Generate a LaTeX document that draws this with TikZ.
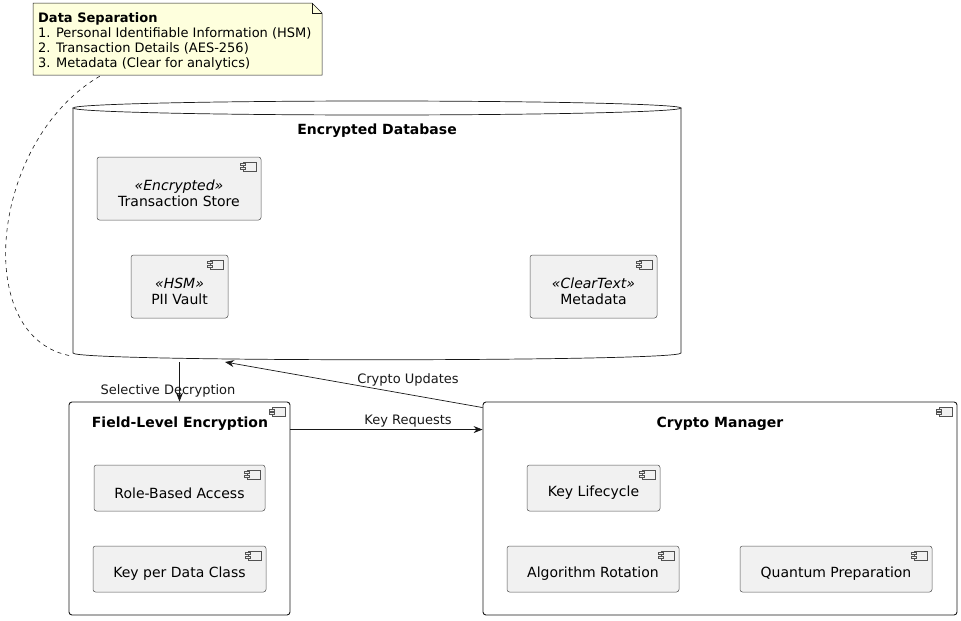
\documentclass[tikz,border=0pt]{standalone}
\usepackage{fontspec}
\setmainfont{DejaVu Sans}
\usetikzlibrary{arrows.meta,calc}
\definecolor{compfill}{HTML}{F1F1F1}
\definecolor{notefill}{HTML}{FEFFDD}
\definecolor{lineclr}{HTML}{181818}
\tikzset{
  comp/.style={draw=lineclr!75, line width=0.5pt, fill=compfill, rounded corners=2.5pt, inner sep=0pt},
  ctext/.style={align=center, font=\fontsize{14}{16.5}\selectfont, inner sep=0pt, yshift=-5pt},
  container/.style={draw=lineclr, line width=0.9pt, rounded corners=3pt, inner sep=0pt},
  ttl/.style={font=\fontsize{14}{16}\selectfont\bfseries, inner sep=0pt},
  elabel/.style={font=\fontsize{13}{15}\selectfont, inner sep=0pt, text=lineclr},
  conn/.style={draw=lineclr, line width=0.7pt, -{Stealth[length=9pt,width=7pt,inset=3pt]}},
  cicon/.pic={
    \draw[lineclr!75, line width=0.5pt, fill=compfill] (2,0) rectangle (15,9);
    \draw[lineclr!75, line width=0.5pt, fill=compfill] (-1,1.5) rectangle (4,3.5);
    \draw[lineclr!75, line width=0.5pt, fill=compfill] (-1,5) rectangle (4,7);
  }
}
\begin{document}
\begin{tikzpicture}[x=1pt,y=-1pt]
\useasboundingbox (0,0) rectangle (961,621);

% note
\node[inner sep=0pt, minimum width=289pt, minimum height=72pt] (note) at (177.5,39) {};
\fill[notefill] (33,3) -- (312,3) -- (322,13) -- (322,75) -- (33,75) -- cycle;
\draw[lineclr, line width=0.5pt] (33,3) -- (312,3) -- (322,13) -- (322,75) -- (33,75) -- cycle;
\draw[lineclr, line width=0.5pt] (312,3) -- (312,13) -- (322,13);
\node[anchor=north west, align=left, inner sep=0pt, font=\fontsize{13}{15}\selectfont] (notetext) at (38,12)
  {\textbf{Data Separation}\\1. Personal Identifiable Information (HSM)\\2. Transaction Details (AES-256)\\3. Metadata (Clear for analytics)};

% database
\node[inner sep=0pt, minimum width=608pt, minimum height=262pt] (db) at (377,231) {};
\fill[white] (73,108) -- (73,353) .. controls (73,362) and (681,362) .. (681,353) -- (681,108) -- cycle;
\draw[lineclr, line width=0.7pt] (73,108) -- (73,353) .. controls (73,362) and (681,362) .. (681,353) -- (681,108);
\draw[lineclr, line width=0.7pt, fill=white] (377,108) ellipse [x radius=304, y radius=7];
\node[ttl] (dbtitle) at (377,131) {Encrypted Database};

\node[comp, minimum width=164pt, minimum height=63pt, label={[ctext]center:{\textit{«Encrypted»}\\Transaction Store}}] (ts) at (179,188.5) {};
\pic at ($(ts.north east)+(-20,5)$) {cicon};
\node[comp, minimum width=97pt, minimum height=63pt, label={[ctext]center:{\textit{«HSM»}\\PII Vault}}] (pii) at (179.5,286.5) {};
\pic at ($(pii.north east)+(-20,5)$) {cicon};
\node[comp, minimum width=127pt, minimum height=63pt, label={[ctext]center:{\textit{«ClearText»}\\Metadata}}] (meta) at (593.5,286.5) {};
\pic at ($(meta.north east)+(-20,5)$) {cicon};

% field-level encryption
\node[container, minimum width=221pt, minimum height=213pt] (fle) at (179.5,508.5) {};
\node[ttl] (fletitle) at (180,424) {Field-Level Encryption};
\pic at ($(fle.north east)+(-20,6)$) {cicon};
\node[comp, minimum width=171pt, minimum height=46pt, label={[ctext]center:Role-Based Access}] (rba) at (179.5,488) {};
\pic at ($(rba.north east)+(-20,5)$) {cicon};
\node[comp, minimum width=173pt, minimum height=46pt, label={[ctext]center:Key per Data Class}] (kpdc) at (179.5,569) {};
\pic at ($(kpdc.north east)+(-20,5)$) {cicon};

% crypto manager
\node[container, minimum width=474pt, minimum height=213pt] (cm) at (720,508.5) {};
\node[ttl] (cmtitle) at (720,424) {Crypto Manager};
\pic at ($(cm.north east)+(-20,6)$) {cicon};
\node[comp, minimum width=133pt, minimum height=46pt, label={[ctext]center:Key Lifecycle}] (kl) at (593.5,488) {};
\pic at ($(kl.north east)+(-20,5)$) {cicon};
\node[comp, minimum width=172pt, minimum height=46pt, label={[ctext]center:Algorithm Rotation}] (ar) at (593,569) {};
\pic at ($(ar.north east)+(-20,5)$) {cicon};
\node[comp, minimum width=192pt, minimum height=46pt, label={[ctext]center:Quantum Preparation}] (qp) at (836,569) {};
\pic at ($(qp.north east)+(-20,5)$) {cicon};

% connectors
\draw[lineclr, line width=0.6pt, dash pattern=on 4pt off 4pt]
  ($(note.south west)+(67,1)$) .. controls (-10,140) and (-30,340) .. ($(db.south west)+(0,-6)$);
\draw[conn] (fle.north |- db.south) -- (fle.north);
\node[elabel] (lsd) at (168,391) {Selective Decryption};
\coordinate (cutarget) at (225,362);
\draw[conn] ($(cm.north west)+(0,6)$) -- (cutarget);
\node[elabel] (lcu) at (408,380) {Crypto Updates};
\draw[conn] ($(fle.north east)+(0,28)$) -- ($(cm.north west)+(0,28)$);
\node[elabel] (lkr) at (408,421) {Key Requests};
\end{tikzpicture}
\end{document}
